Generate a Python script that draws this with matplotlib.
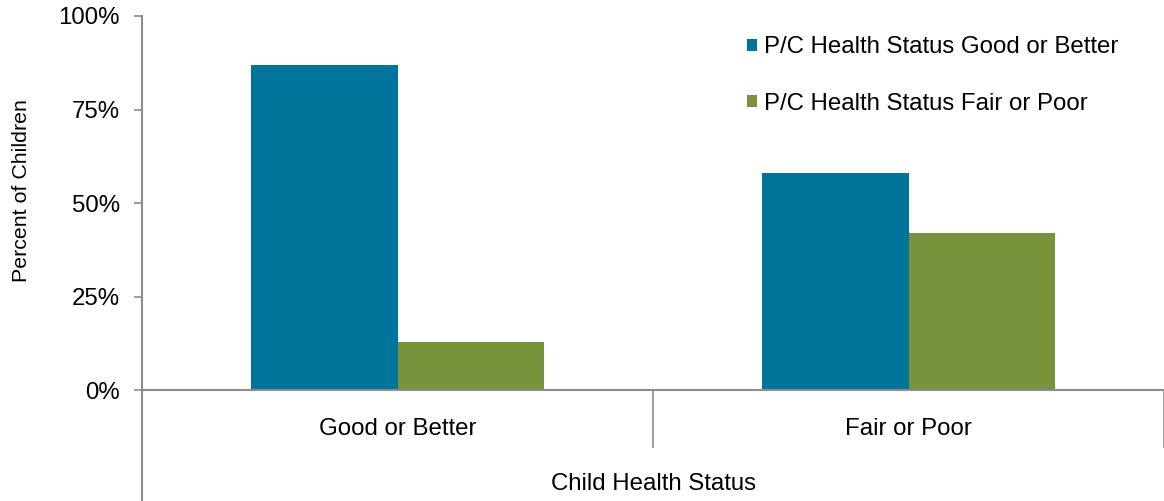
import numpy as np
import matplotlib
matplotlib.use("Agg")
import matplotlib.pyplot as plt
from matplotlib.ticker import FuncFormatter

plt.rcParams['font.family'] = ['Liberation Sans', 'DejaVu Sans']

# data
categories = ['Good or Better', 'Fair or Poor']
pc_good = [87, 58]
pc_poor = [13, 42]
series_names = ['P/C Health Status Good or Better', 'P/C Health Status Fair or Poor']
blue = '#00749A'
green = '#77933C'
gray = '#8C8C8C'
fs = 17.3

fig = plt.figure(figsize=(11.64, 5.01), dpi=100)
ax = fig.add_axes([0.122, 0.2206, 0.878, 0.7475])

x = np.arange(len(categories))
w = 0.286
ax.bar(x - w / 2, pc_good, w, color=blue, label=series_names[0])
ax.bar(x + w / 2, pc_poor, w, color=green, label=series_names[1])

ax.set_xlim(-0.5, 1.5)
ax.set_ylim(0, 100)
ax.set_yticks([0, 25, 50, 75, 100])
ax.yaxis.set_major_formatter(FuncFormatter(lambda v, p: '%d%%' % v))
ax.tick_params(axis='y', labelsize=fs, length=6, color=gray, width=1.2, pad=10)

ax.set_xticks(x)
ax.set_xticklabels(categories)
ax.tick_params(axis='x', which='major', length=0, labelsize=fs, pad=20)
ax.set_xticks([-0.5, 0.5, 1.5], minor=True)
ax.tick_params(axis='x', which='minor', length=42, color=gray, width=1.2)

for s in ['top', 'right']:
    ax.spines[s].set_visible(False)
for s in ['left', 'bottom']:
    ax.spines[s].set_color(gray)
    ax.spines[s].set_linewidth(1.5)

# left axis line goes on down past the category labels
ax.plot([0, 0], [0, -0.30], transform=ax.transAxes, color=gray, lw=1.5, clip_on=False)

ax.set_xlabel('Child Health Status', fontsize=fs)
ax.xaxis.set_label_coords(0.5, -0.25)
ax.xaxis.label.set_va('center')
ax.set_ylabel('Percent of Children', fontsize=15.4)
ax.yaxis.set_label_coords(-0.118, 0.533)
ax.yaxis.label.set_va('center')

ax.legend(loc='upper left', bbox_to_anchor=(0.578, 0.984), frameon=False, fontsize=fs,
          handlelength=0.42, handleheight=0.42, handletextpad=0.3, labelspacing=1.42,
          borderaxespad=0.2)

fig.savefig('out.png', dpi=100)
